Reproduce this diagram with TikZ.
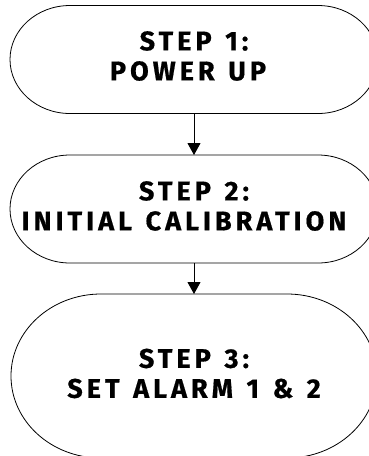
\documentclass[tikz,border=0pt]{standalone}
\usepackage{fontspec}
\newfontfamily\stepfont[LetterSpace=15,WordSpace=1.3,FakeBold=0.6]{Fira Sans}
\usetikzlibrary{arrows.meta}
\tikzset{
  pill/.style={draw=black, line width=0.8pt},
  steptext/.style={font=\stepfont\bfseries\fontsize{27}{30}\selectfont, align=center, inner sep=0pt},
  conn/.style={draw=black, line width=0.9pt, -{Triangle[length=12pt,width=13pt]}}
}
\begin{document}
\begin{tikzpicture}[x=1pt,y=-1pt]
\useasboundingbox (0,0) rectangle (369,456);
\clip (0,0) rectangle (369,456);
\fill[white] (0,0) rectangle (369,456);
% box 1
\draw[pill] (70,5.5) -- (318,5.5) arc[start angle=-90,end angle=90,x radius=60,y radius=54]
  -- (70,113.5) arc[start angle=90,end angle=270,x radius=60,y radius=54] -- cycle;
% box 2
\draw[pill] (70,155) -- (318,155) arc[start angle=-90,end angle=90,x radius=60,y radius=54]
  -- (70,263) arc[start angle=90,end angle=270,x radius=60,y radius=54] -- cycle;
% box 3
\draw[pill] (101,294) -- (287,294) arc[start angle=-90,end angle=90,x radius=90,y radius=82]
  -- (101,458) arc[start angle=90,end angle=270,x radius=90,y radius=82] -- cycle;
\coordinate (b1s) at (194,113.5);
\coordinate (b2n) at (194,155);
\coordinate (b2s) at (194,263);
\coordinate (b3n) at (194,294);
\node[steptext] (s1) at (194,56) {STEP 1:\\POWER UP\hspace*{12pt}};
\node[steptext] (s2) at (194,206) {STEP 2:\\INITIAL CALIBRATION\hspace*{20pt}};
\node[steptext] (s3) at (194,373.5) {STEP 3:\\SET ALARM 1 \& 2};
\draw[conn] (b1s) -- (b2n);
\draw[conn] (b2s) -- (b3n);
\end{tikzpicture}
\end{document}
